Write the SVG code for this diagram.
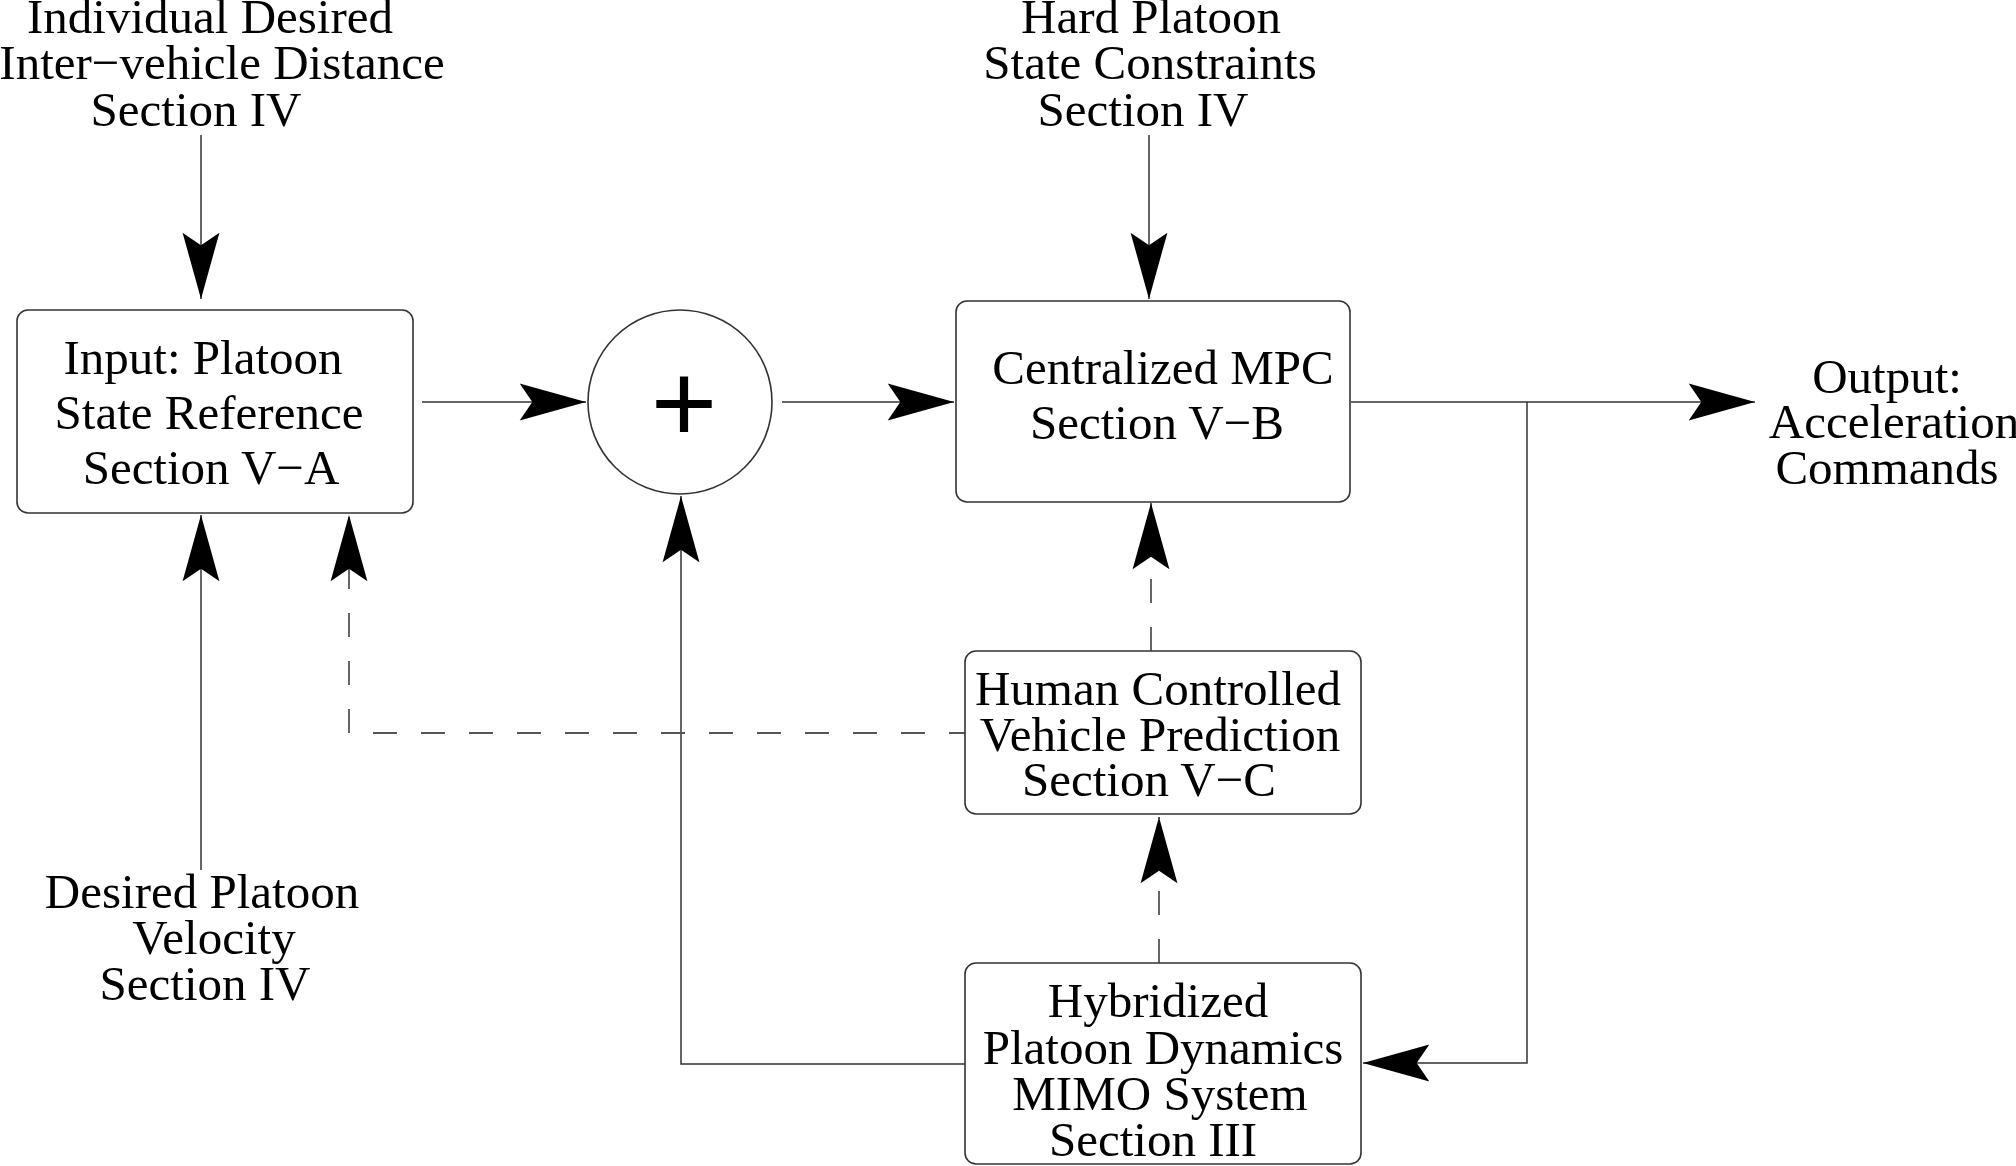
<svg xmlns="http://www.w3.org/2000/svg" width="2016" height="1166" viewBox="0 0 2016 1166">
<style>
  text { font-family: "Liberation Serif", "Times New Roman", serif; font-size: 49px; fill: #000; text-anchor: middle; }
  .box { fill: #fff; stroke: #333; stroke-width: 1.6; }
  .ln { fill: none; stroke: #333; stroke-width: 1.5; }
  .dash { fill: none; stroke: #555; stroke-width: 1.8; stroke-dasharray: 24 24; }
  .plus { font-family: "Liberation Sans", Arial, sans-serif; font-size: 114px; }
</style>
<defs>
  <marker id="ah" markerUnits="userSpaceOnUse" orient="auto" refX="0" refY="0" markerWidth="70" markerHeight="40" viewBox="-64 -19 66 38" overflow="visible">
    <path d="M0,0 L-63,-17.5 L-51,0 L-63,17.5 Z" fill="#000"/>
  </marker>
</defs>
<rect width="2016" height="1166" fill="#fff"/>

<g id="connectors">
  <line class="ln" x1="201" y1="135" x2="201" y2="299" marker-end="url(#ah)"/>
  <line class="ln" x1="1149" y1="135" x2="1149" y2="299" marker-end="url(#ah)"/>
  <line class="ln" x1="422" y1="402" x2="586" y2="402" marker-end="url(#ah)"/>
  <line class="ln" x1="782" y1="402" x2="954" y2="402" marker-end="url(#ah)"/>
  <line class="ln" x1="1351" y1="402" x2="1755" y2="402" marker-end="url(#ah)"/>
  <path class="ln" d="M1527,402 L1527,1063 L1363,1063" marker-end="url(#ah)"/>
  <line class="ln" x1="201" y1="870" x2="201" y2="515" marker-end="url(#ah)"/>
  <path class="ln" d="M965,1064 L681,1064 L681,496" marker-end="url(#ah)"/>
  <path class="dash" style="stroke-dashoffset:8" d="M965,733 L349,733 L349,515" marker-end="url(#ah)"/>
  <line class="dash" x1="1151" y1="651" x2="1151" y2="503" marker-end="url(#ah)"/>
  <line class="dash" x1="1159" y1="963" x2="1159" y2="817" marker-end="url(#ah)"/>
</g>

<g id="label-inter-vehicle">
  <text x="210" y="33">Individual Desired</text>
  <text x="222" y="79">Inter−vehicle Distance</text>
  <text x="196" y="126">Section IV</text>
</g>

<g id="label-hard-constraints">
  <text x="1151" y="33">Hard Platoon</text>
  <text x="1150" y="79">State Constraints</text>
  <text x="1143" y="126">Section IV</text>
</g>

<g id="label-desired-velocity">
  <text x="202" y="908">Desired Platoon</text>
  <text x="214" y="954">Velocity</text>
  <text x="205" y="1000">Section IV</text>
</g>

<g id="label-output">
  <text x="1887" y="393">Output:</text>
  <text x="1894" y="438">Acceleration</text>
  <text x="1887" y="484">Commands</text>
</g>

<g id="node-input">
  <rect class="box" x="17" y="310" width="396" height="203" rx="11"/>
  <text x="203" y="374">Input: Platoon</text>
  <text x="209" y="429">State Reference</text>
  <text x="211" y="484">Section V−A</text>
</g>

<g id="node-sum">
  <circle class="box" cx="680" cy="402" r="92"/>
  <text class="plus" x="684" y="442">+</text>
</g>

<g id="node-mpc">
  <rect class="box" x="956" y="301" width="394" height="201" rx="11"/>
  <text x="1163" y="384">Centralized MPC</text>
  <text x="1157" y="439">Section V−B</text>
</g>

<g id="node-human">
  <rect class="box" x="965" y="651" width="396" height="163" rx="11"/>
  <text x="1158" y="705">Human Controlled</text>
  <text x="1160" y="751">Vehicle Prediction</text>
  <text x="1149" y="796">Section V−C</text>
</g>

<g id="node-hybrid">
  <rect class="box" x="965" y="963" width="396" height="201" rx="11"/>
  <text x="1158" y="1017">Hybridized</text>
  <text x="1163" y="1064">Platoon Dynamics</text>
  <text x="1160" y="1110">MIMO System</text>
  <text x="1153" y="1156">Section III</text>
</g>
</svg>
